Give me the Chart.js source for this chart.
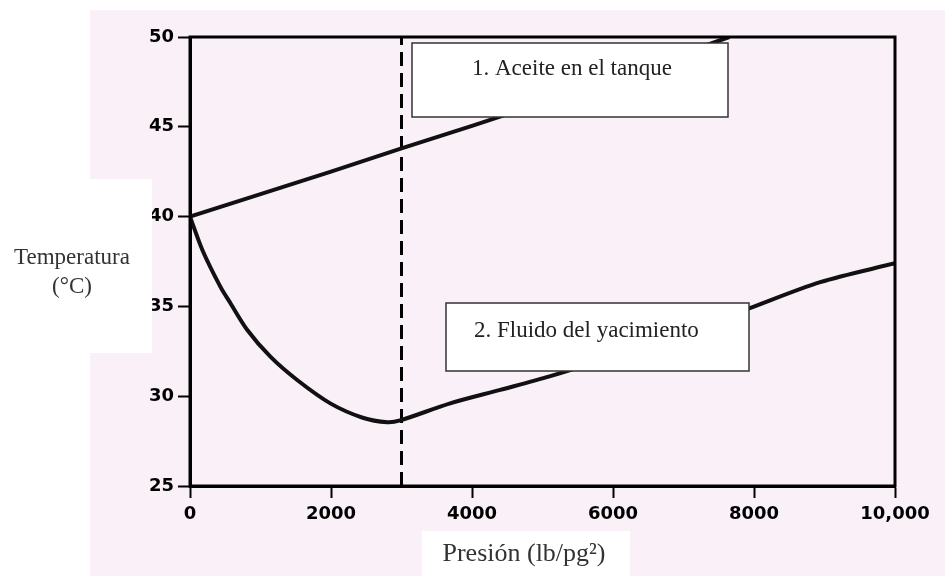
<!DOCTYPE html>
<html>
<head>
<meta charset="utf-8">
<script src="https://cdn.jsdelivr.net/npm/chart.js@4.4.0/dist/chart.umd.min.js"></script>
<style>
  html, body { margin: 0; padding: 0; background: #fff; }
  #wrap { width: 945px; height: 576px; }
</style>
</head>
<body>
<div id="wrap"><canvas id="temp_chart" width="945" height="576"></canvas></div>
<script>
// Presion (lb/pg2) vs Temperatura (C)
var presionTanque = [0, 1000, 2000, 3000, 4000, 5000, 6000, 7000, 7650];
var tempTanque = [40, 41.25, 42.5, 43.8, 45.05, 46.35, 47.7, 49.1, 50];

var presionYac = [0, 180, 430, 570, 810, 1140, 1520, 1990, 2450, 2800, 2980, 3690, 4400, 5100, 6000, 7000, 7940, 8940, 10000];
var tempYac = [40, 38.1, 36.1, 35.2, 33.7, 32.2, 30.9, 29.6, 28.8, 28.55, 28.65, 29.6, 30.35, 31.1, 32.2, 33.5, 34.9, 36.35, 37.4];

var presionCorte = [3000, 3000];
var tempCorte = [25, 50];

var xTicks = [0, 2000, 4000, 6000, 8000, 10000];
var yTicks = [25, 30, 35, 40, 45, 50];

function toPoints(xs, ys) {
	var pts = [];
	for (var i = 0; i < xs.length; i++) pts.push({x: xs[i], y: ys[i]});
	return pts;
}

var tickFont = {family: "DejaVu Sans", size: 18, weight: "bold"};
var serif = "Liberation Serif";

var fondo = {
	id: "fondo",
	beforeDraw: function(chart) {
		var ctx = chart.ctx;
		ctx.save();
		ctx.fillStyle = "#ffffff";
		ctx.fillRect(0, 0, chart.width, chart.height);
		ctx.fillStyle = "#faf1f8";
		ctx.fillRect(90, 10, chart.width - 90, chart.height - 10);
		ctx.restore();
	},
	afterDraw: function(chart) {
		var ctx = chart.ctx,
			a = chart.chartArea;
		ctx.save();
		// marco
		ctx.strokeStyle = "#000";
		ctx.lineWidth = 3;
		ctx.strokeRect(a.left, a.top, a.right - a.left, a.bottom - a.top);

		// cajas de texto
		ctx.lineWidth = 1.5;
		ctx.strokeStyle = "#333";
		ctx.fillStyle = "#fff";
		ctx.fillRect(412, 43, 316, 74);
		ctx.strokeRect(412, 43, 316, 74);
		ctx.fillRect(446, 303, 303, 68);
		ctx.strokeRect(446, 303, 303, 68);

		ctx.fillStyle = "#222";
		ctx.font = "23px '" + serif + "'";
		ctx.textBaseline = "middle";
		ctx.textAlign = "left";
		ctx.fillText("1. Aceite en el tanque", 472, 69);
		ctx.fillText("2. Fluido del yacimiento", 474, 331);

		// titulos de ejes
		ctx.fillStyle = "#fff";
		ctx.fillRect(0, 179, 152, 174);
		ctx.fillRect(422, 531, 208, 45);
		ctx.fillStyle = "#333";
		ctx.textAlign = "center";
		ctx.font = "23px '" + serif + "'";
		ctx.fillText("Temperatura", 72, 258);
		ctx.fillText("(°C)", 72, 287);
		ctx.font = "26px '" + serif + "'";
		ctx.fillText("Presión (lb/pg²)", 524, 554);
		ctx.restore();
	}
};

new Chart(document.getElementById("temp_chart").getContext("2d"), {
	type: "scatter",
	data: {
		datasets: [{
			label: "1. Aceite en el tanque",
			data: toPoints(presionTanque, tempTanque),
			showLine: true,
			borderColor: "#111",
			borderWidth: 4,
			pointRadius: 0,
			tension: 0
		}, {
			label: "2. Fluido del yacimiento",
			data: toPoints(presionYac, tempYac),
			showLine: true,
			borderColor: "#111",
			borderWidth: 4,
			pointRadius: 0,
			tension: 0.3
		}, {
			label: "corte",
			data: toPoints(presionCorte, tempCorte),
			showLine: true,
			borderColor: "#000",
			borderWidth: 3,
			borderDash: [14, 7],
			pointRadius: 0
		}]
	},
	options: {
		responsive: false,
		animation: false,
		devicePixelRatio: 1,
		layout: {padding: {left: 0, top: 37, right: 50, bottom: 0}},
		plugins: {legend: {display: false}, tooltip: {enabled: false}},
		scales: {
			x: {
				type: "linear",
				min: 0,
				max: 10000,
				afterFit: function(scale) { scale.height = 90; },
				afterBuildTicks: function(scale) {
					scale.ticks = xTicks.map(function(v) { return {value: v}; });
				},
				ticks: {
					color: "#000",
					font: tickFont,
					padding: 6,
					maxRotation: 0,
					callback: function(v) { return v === 10000 ? "10,000" : String(v); }
				},
				grid: {drawOnChartArea: false, tickLength: 12, tickWidth: 2, tickColor: "#000"},
				border: {display: true, color: "#000", width: 3}
			},
			y: {
				min: 25,
				max: 50,
				afterFit: function(scale) { scale.width = 190; },
				afterBuildTicks: function(scale) {
					scale.ticks = yTicks.map(function(v) { return {value: v}; });
				},
				ticks: {color: "#000", font: tickFont, padding: 4},
				grid: {drawOnChartArea: false, tickLength: 12, tickWidth: 2, tickColor: "#000"},
				border: {display: true, color: "#000", width: 3}
			}
		}
	},
	plugins: [fondo]
});
</script>
</body>
</html>
